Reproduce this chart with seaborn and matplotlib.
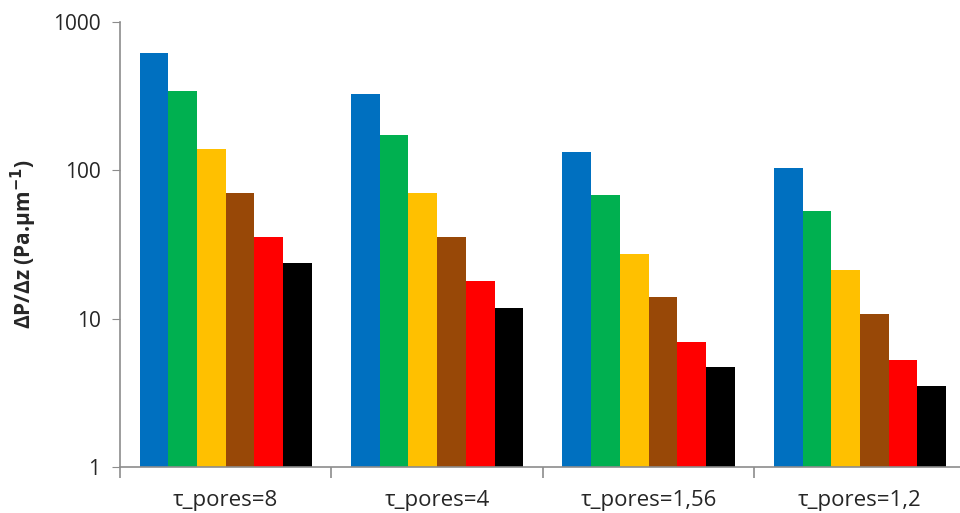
import numpy as np
import pandas as pd
import matplotlib
matplotlib.use('Agg')
import matplotlib.pyplot as plt
import seaborn as sns

categories = ['τ_pores=8', 'τ_pores=4', 'τ_pores=1,56', 'τ_pores=1,2']
series = ['s1', 's2', 's3', 's4', 's5', 's6']
values_s1 = [620, 328, 133, 104]
values_s2 = [343, 173, 68, 53]
values_s3 = [139, 70, 27.3, 21.3]
values_s4 = [71, 35.6, 14.0, 10.8]
values_s5 = [35.6, 17.9, 7.0, 5.27]
values_s6 = [23.7, 11.8, 4.72, 3.52]
colors = ['#0070C0', '#00B050', '#FFC000', '#984807', '#FF0000', '#000000']

all_vals = [values_s1, values_s2, values_s3, values_s4, values_s5, values_s6]
rows = []
for s, vals in zip(series, all_vals):
    for c, v in zip(categories, vals):
        rows.append({'cat': c, 'series': s, 'value': v})
df = pd.DataFrame(rows)

sns.set_style('white')
plt.rcParams['font.family'] = ['Open Sans', 'DejaVu Sans']
plt.rcParams['mathtext.default'] = 'bf'

fig = plt.figure(figsize=(9.6, 5.13), dpi=100)
ax = fig.add_axes([0.125, 0.0897, 0.881, 0.867])

sns.barplot(data=df, x='cat', y='value', hue='series', order=categories,
            hue_order=series, palette=colors, width=0.815, saturation=1,
            linewidth=0, ax=ax, legend=False)
ax.set_yscale('log')
ax.set_ylim(1, 1000)
ax.set_xlim(-0.5, 3.5)

for side in ['top', 'right']:
    ax.spines[side].set_visible(False)
for side in ['left', 'bottom']:
    ax.spines[side].set_color('#8c8c8c')
    ax.spines[side].set_linewidth(1.2)

ax.set_yticks([1, 10, 100, 1000])
ax.set_yticklabels(['1', '10', '100', '1000'])
ax.yaxis.set_minor_locator(matplotlib.ticker.NullLocator())
ax.tick_params(axis='y', which='major', left=True, length=6, color='#8c8c8c',
               labelsize=15, pad=8)

ax.set_xticks(range(len(categories)))
ax.set_xticklabels(categories)
ax.tick_params(axis='x', which='major', bottom=False, labelsize=16, pad=13)
ax.set_xticks([-0.5, 0.5, 1.5, 2.5, 3.5], minor=True)
ax.tick_params(axis='x', which='minor', bottom=True, length=8, color='#8c8c8c',
               width=1.2)

ax.set_xlabel('')
ax.set_ylabel('ΔP/Δz (Pa.µm$^{-1}$)', fontsize=15, fontweight='bold', labelpad=10)

fig.savefig('out.png', dpi=100)
